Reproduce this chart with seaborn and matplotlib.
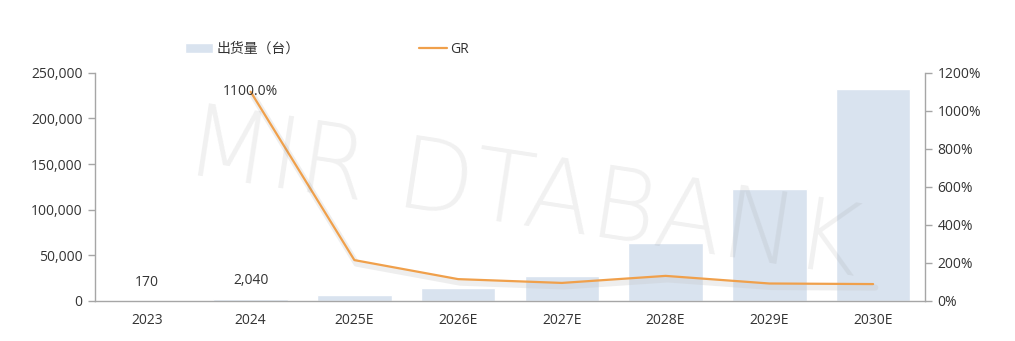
import numpy as np
import pandas as pd
import matplotlib
matplotlib.use("Agg")
import matplotlib.pyplot as plt
import matplotlib.patheffects as pe
from matplotlib.lines import Line2D
from matplotlib.ticker import FuncFormatter, FixedLocator
import seaborn as sns

# ---- data ----
categories = ["2023", "2024", "2025E", "2026E", "2027E", "2028E", "2029E", "2030E"]
shipments = [170, 2040, 7000, 14300, 27400, 64000, 123000, 232000]
gr_categories = ["2024", "2025E", "2026E", "2027E", "2028E", "2029E", "2030E"]
gr_values = [1100, 215, 115, 95, 132, 92, 89]
bar_labels = ["170", "2,040", "", "", "", "", "", ""]
gr_label = "1100.0%"
bar_name = "出货量（台）"
line_name = "GR"
watermark = "MIR DTABANK"

sns.set_theme(style="white")
plt.rcParams["font.family"] = ["Open Sans", "Noto Sans CJK SC", "DejaVu Sans"]

BAR_COLOR = "#D9E3EF"
LINE_COLOR = "#F0A04B"
TEXT_COLOR = "#333333"
SPINE_COLOR = "#A6A6A6"
FS = 10

fig = plt.figure(figsize=(10.15, 3.41), dpi=100)
ax = fig.add_axes([95 / 1015, 1 - 301 / 341, 830 / 1015, 228.3 / 341])

df = pd.DataFrame({"cat": categories, "val": shipments})
sns.barplot(data=df, x="cat", y="val", ax=ax, color=BAR_COLOR, width=0.72,
            saturation=1, label=bar_name, zorder=2)
ax.bar_label(ax.containers[0], labels=bar_labels, padding=8, fontsize=FS, color=TEXT_COLOR)

ax.set_ylim(0, 250000)
ax.set_xlim(-0.5, len(categories) - 0.5)
ax.yaxis.set_major_locator(FixedLocator(np.arange(0, 250001, 50000)))
ax.yaxis.set_major_formatter(FuncFormatter(lambda v, p: f"{int(v):,}"))
ax.set_xlabel("")
ax.set_ylabel("")
ax.xaxis.set_major_locator(FixedLocator(np.arange(len(categories))))
ax.set_xticks(np.arange(len(categories)) + 0.5, minor=True)
ax.tick_params(axis="x", which="major", length=0, pad=9, labelsize=FS, labelcolor=TEXT_COLOR)
ax.tick_params(axis="x", which="minor", length=5, width=1, color=SPINE_COLOR, direction="out")
ax.tick_params(axis="y", length=5, width=1, color=SPINE_COLOR, direction="out", left=True,
               labelsize=FS, labelcolor=TEXT_COLOR, pad=4)
for s in ["top", "right"]:
    ax.spines[s].set_visible(False)
for s in ["left", "bottom"]:
    ax.spines[s].set_color(SPINE_COLOR)
    ax.spines[s].set_linewidth(1)

ax2 = ax.twinx()
gr_x = [categories.index(c) for c in gr_categories]
ldf = pd.DataFrame({"x": gr_x, "gr": gr_values})
sns.lineplot(data=ldf, x="x", y="gr", ax=ax2, color=LINE_COLOR, linewidth=1.6,
             legend=False, zorder=3,
             path_effects=[pe.SimpleLineShadow(offset=(1.5, -2.5), shadow_color="#C8C8C8", alpha=0.3, linewidth=4.5),
                           pe.Normal()])
ax2.annotate(gr_label, (gr_x[0], gr_values[0]), xytext=(0, 0), textcoords="offset points",
             ha="center", va="center", fontsize=FS, color=TEXT_COLOR)
ax2.set_ylim(0, 1200)
ax2.set_xlim(-0.5, len(categories) - 0.5)
ax2.yaxis.set_major_locator(FixedLocator(np.arange(0, 1201, 200)))
ax2.yaxis.set_major_formatter(FuncFormatter(lambda v, p: f"{int(v)}%"))
ax2.set_ylabel("")
ax2.set_xlabel("")
ax2.tick_params(axis="y", length=5, width=1, color=SPINE_COLOR, direction="out", right=True,
                labelsize=FS, labelcolor=TEXT_COLOR, pad=4)
for s in ["top", "left", "bottom"]:
    ax2.spines[s].set_visible(False)
ax2.spines["right"].set_color(SPINE_COLOR)
ax2.spines["right"].set_linewidth(1)

# legend
h1, l1 = ax.get_legend_handles_labels()
if ax.get_legend():
    ax.get_legend().remove()
line_handle = Line2D([], [], color=LINE_COLOR, linewidth=1.6)
fig.legend(h1 + [line_handle], l1 + [line_name], loc="center", bbox_to_anchor=(0.322, 0.856), ncol=2,
           frameon=False, fontsize=FS, handlelength=2.0, handletextpad=0.25, columnspacing=8.6,
           labelcolor=TEXT_COLOR)

# watermark
fig.text(182 / 1015, 1 - 173 / 341, watermark, fontsize=71, color="#888888", alpha=0.12, rotation=-8.7,
         ha="left", va="baseline", rotation_mode="anchor", family=["DejaVu Sans"],
         fontweight="light", zorder=10)

fig.savefig("out.png", dpi=100)
